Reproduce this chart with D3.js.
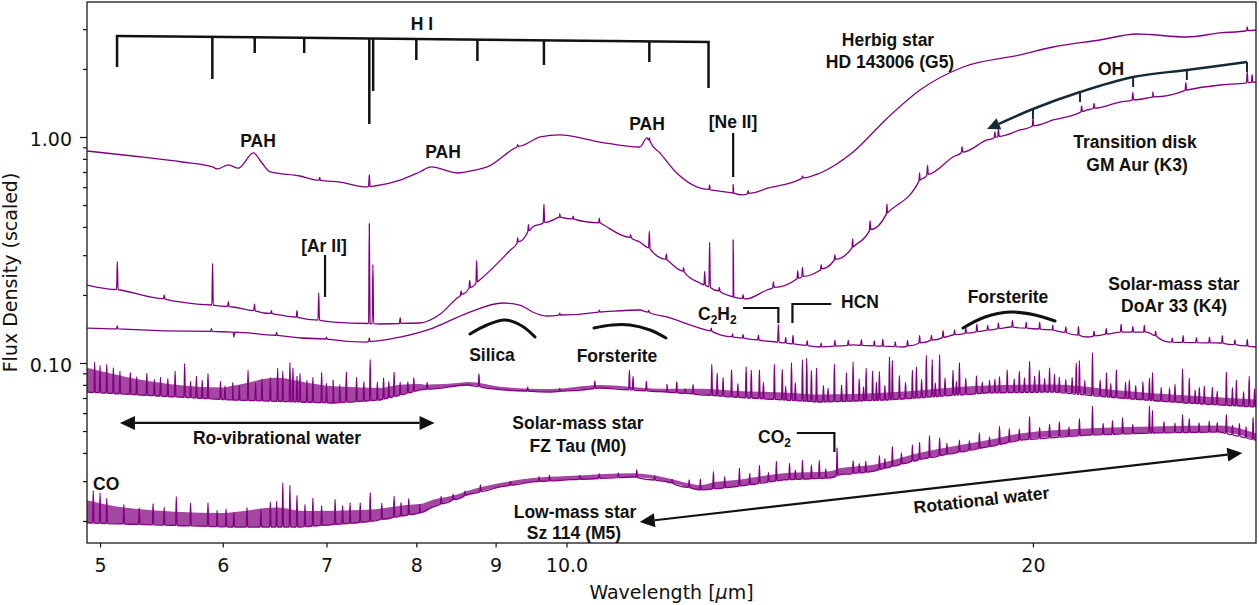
<!DOCTYPE html>
<html><head><meta charset="utf-8">
<script src="https://cdn.jsdelivr.net/npm/d3@7"></script>
<style>body{margin:0;background:#fff}svg{display:block}</style>
</head><body>
<svg id="c" width="1260" height="605"></svg>
<script>
// ---------------- DATA ----------------
const xTicks = [5, 6, 7, 8, 9, 10, 20];
const xTickLabels = ["5", "6", "7", "8", "9", "10.0", "20"];
const yTicks = [0.1, 1];
const yTickLabels = ["0.10", "1.00"];
const yMinorTicks = [0.02,0.03,0.04,0.05,0.06,0.07,0.08,0.09,0.2,0.3,0.4,0.5,0.6,0.7,0.8,0.9,2,3];

// continuum [wavelength (um), flux (scaled)]
const hdCont = [[4.904,0.867],[5.25,0.824],[5.65,0.775],[5.91,0.737],[5.95,0.722],[6.05,0.752],[6.14,0.728],[6.28,0.850],[6.36,0.767],[6.44,0.700],[6.73,0.672],[6.90,0.645],[7.14,0.632],[7.43,0.601],[7.52,0.607],[7.81,0.645],[8.04,0.700],[8.18,0.737],[8.50,0.693],[8.73,0.714],[8.89,0.737],[9.29,0.903],[9.62,1.0],[9.90,1.021],[10.51,0.950],[11.15,0.903],[11.27,0.990],[11.49,0.850],[11.78,0.693],[12.38,0.583],[12.81,0.565],[13.00,0.554],[13.5,0.595],[14.58,0.693],[15.31,0.858],[16.11,1.214],[16.91,1.614],[18.03,2.040],[19.62,2.306],[20.61,2.501],[22.09,2.686],[23.34,2.856],[25.14,2.770],[26.41,2.886],[27.86,2.975]];
const gmCont = [[4.904,0.2213],[5.15,0.2104],[5.63,0.1862],[6.09,0.1769],[6.53,0.1631],[7.07,0.1518],[7.58,0.1488],[8.04,0.1503],[8.29,0.1647],[8.50,0.194],[8.79,0.2330],[9.20,0.316],[9.51,0.400],[9.90,0.443],[10.51,0.4164],[11.15,0.343],[11.61,0.2857],[12.19,0.226],[12.81,0.196],[13.05,0.192],[13.47,0.2104],[14.58,0.258],[15.31,0.326],[16.11,0.461],[16.91,0.645],[17.76,0.816],[18.68,0.970],[19.62,1.074],[20.61,1.189],[21.68,1.317],[22.76,1.428],[23.90,1.503],[25.14,1.614],[26.41,1.698],[27.86,1.751]];
const doarCont = [[4.904,0.1428],[6.09,0.1371],[7.43,0.1238],[7.81,0.1303],[8.20,0.1428],[8.63,0.1664],[9.10,0.1843],[9.33,0.1805],[9.51,0.1681],[9.71,0.1614],[10.51,0.1681],[11.15,0.1716],[11.61,0.1598],[12.19,0.1428],[12.81,0.1303],[13.67,0.1238],[14.58,0.1177],[15.31,0.1202],[16.50,0.1177],[17.76,0.1330],[19.33,0.1443],[20.61,0.1400],[21.68,0.1303],[22.76,0.1371],[23.69,0.1371],[24.51,0.1238],[26.41,0.1226],[27.86,0.1177]];
const fzCont = [[4.904,0.0744],[6.09,0.0686],[7.07,0.0665],[7.58,0.0686],[8.04,0.0760],[8.63,0.0799],[9.10,0.0760],[9.76,0.0744],[10.51,0.0775],[11.61,0.0744],[12.81,0.0707],[14.58,0.0672],[16.11,0.0686],[18.68,0.0737],[20.61,0.0744],[22.76,0.0700],[25.14,0.0665],[27.86,0.0639]];
const szCont = [[4.904,0.0196],[6.09,0.0188],[6.73,0.0188],[7.43,0.0198],[8.04,0.0217],[8.20,0.0231],[8.63,0.0261],[9.06,0.0283],[9.51,0.0298],[10.0,0.0304],[11.04,0.0313],[11.61,0.0298],[12.19,0.0274],[12.81,0.0283],[13.80,0.0304],[14.80,0.0310],[15.0,0.0320],[15.7,0.0330],[16.91,0.0375],[18.68,0.0425],[19.62,0.0456],[21.68,0.0480],[23.90,0.0490],[26.41,0.0495],[27.86,0.0456]];

// dense line-forest envelope [wavelength, top / continuum]
const fzBand = [[4.904,1.28],[5.3,1.17],[6.0,1.13],[6.5,1.27],[6.8,1.22],[7.2,1.17],[7.8,1.11],[8.1,1.05],[8.6,1.03],[11.5,1.03],[12.2,1.06],[14,1.08],[27.86,1.08]];
const szBand = [[4.904,1.26],[5.2,1.18],[6.0,1.15],[6.5,1.22],[6.8,1.17],[8.0,1.10],[8.5,1.04],[12,1.04],[12.5,1.07],[27.86,1.07]];

// emission lines [wavelength, peak / continuum]
const hdLines = [[6.93,1.03],[7.46,1.13],[9.3,1.02],[11.31,1.03],[12.37,1.05],[12.81,1.09],[13.1,1.03],[14.2,1.02],[27.5,1.04]];
const gmLines = [[5.13,1.33],[5.50,1.04],[5.91,1.53],[6.05,1.05],[6.29,1.07],[6.45,1.03],[6.70,1.07],[6.92,1.32],[7.46,2.77],[7.50,1.83],[7.81,1.06],[8.55,1.04],[8.66,1.08],[8.75,1.25],[9.30,1.05],[9.45,1.07],[9.67,1.21],[9.90,1.03],[10.1,1.03],[10.5,1.05],[11.0,1.03],[11.31,1.19],[11.6,1.06],[11.9,1.04],[12.28,1.15],[12.37,1.58],[12.55,1.04],[12.81,1.79],[13.0,1.04],[13.6,1.06],[14.1,1.08],[14.2,1.10],[14.6,1.05],[14.9,1.05],[15.3,1.09],[15.7,1.10],[16.1,1.10],[16.9,1.08],[17.1,1.10],[18.0,1.06],[18.9,1.06],[19.0,1.08],[20.0,1.08],[21.5,1.06],[21.9,1.05],[23.2,1.08],[23.9,1.05],[25.1,1.08],[27.5,1.12],[27.7,1.08]];
const doarLines = [[5.13,1.03],[5.9,1.03],[6.1,0.95],[6.5,1.03],[7.0,1.02],[7.46,1.04],[9.9,1.02],[10.5,1.02],[11.3,1.02],[12.4,1.03],[12.8,1.03],[13.0,1.04],[13.3,1.05],[13.7,1.20],[13.85,1.06],[14.0,1.09],[14.3,1.05],[14.6,1.04],[14.9,1.06],[15.2,1.05],[15.5,1.06],[15.8,1.05],[16.0,1.07],[16.3,1.05],[16.6,1.06],[16.9,1.08],[17.2,1.05],[17.5,1.07],[17.8,1.05],[18.1,1.06],[18.4,1.08],[18.7,1.05],[19.0,1.06],[19.4,1.07],[19.8,1.06],[20.2,1.07],[20.6,1.05],[21.0,1.06],[21.4,1.09],[21.9,1.05],[22.3,1.06],[22.8,1.08],[23.2,1.06],[23.6,1.07],[24.0,1.05],[24.6,1.04],[25.0,1.07],[25.5,1.05],[26.0,1.06],[26.5,1.08],[27.0,1.05],[27.5,1.07]];
const fzLines = [[4.96,1.36],[5.0,1.32],[5.05,1.34],[5.10,1.30],[5.15,1.26],[5.23,1.25],[5.28,1.2],[5.36,1.25],[5.42,1.18],[5.47,1.21],[5.53,1.2],[5.59,1.30],[5.67,1.41],[5.72,1.18],[5.77,1.25],[5.82,1.2],[5.87,1.29],[5.98,1.20],[6.02,1.15],[6.09,1.19],[6.15,1.16],[6.23,1.36],[6.3,1.2],[6.36,1.25],[6.44,1.27],[6.51,1.40],[6.56,1.36],[6.63,1.49],[6.66,1.41],[6.7,1.3],[6.73,1.34],[6.8,1.25],[6.86,1.29],[6.95,1.36],[7.0,1.22],[7.07,1.26],[7.14,1.2],[7.21,1.36],[7.32,1.28],[7.4,1.22],[7.47,1.52],[7.55,1.2],[7.62,1.24],[7.68,1.18],[7.74,1.28],[7.81,1.14],[7.9,1.12],[7.97,1.15],[8.13,1.07],
 [8.78,1.14],[9.44,1.04],[9.90,1.03],[10.43,1.08],[10.98,1.22],[11.04,1.15],[11.26,1.10],[11.61,1.08],[11.78,1.12],[11.93,1.05],[12.07,1.10],
 [12.41,1.37],[12.51,1.26],[12.62,1.21],[12.78,1.32],[12.9,1.15],[13.06,1.37],[13.16,1.33],[13.32,1.34],[13.4,1.18],[13.62,1.43],[13.78,1.36],[13.85,1.15],[13.97,1.47],[14.05,1.2],[14.20,1.52],[14.29,1.55],[14.39,1.37],[14.50,1.41],[14.65,1.18],[14.75,1.15],[14.89,1.46],[15.05,1.18],[15.16,1.34],[15.31,1.49],[15.45,1.25],[15.55,1.15],[15.61,1.39],[15.76,1.35],[15.85,1.2],[15.92,1.34],[16.05,1.16],[16.16,1.55],[16.23,1.49],[16.40,1.27],[16.55,1.18],[16.72,1.33],[16.82,1.37],[16.95,1.2],[17.07,1.53],[17.22,1.46],[17.3,1.15],[17.41,1.53],[17.55,1.2],[17.76,1.29],[17.85,1.15],[17.93,1.39],[18.1,1.18],[18.39,1.20],[18.55,1.12],[18.75,1.14],[18.9,1.15],[19.03,1.18],[19.25,1.26],[19.45,1.15],[19.60,1.24],[19.75,1.16],[19.90,1.37],[20.05,1.18],[20.19,1.25],[20.35,1.15],[20.50,1.28],[20.65,1.2],[20.80,1.17],[21.0,1.15],[21.2,1.18],[21.33,1.37],[21.43,1.41],[21.6,1.16],[21.85,1.55],[22.1,1.18],[22.31,1.28],[22.45,1.15],[22.64,1.33],[22.95,1.18],[23.08,1.21],[23.3,1.15],[23.55,1.2],[23.78,1.25],[23.89,1.33],[24.2,1.15],[24.50,1.15],[24.7,1.2],[24.98,1.41],[25.23,1.29],[25.45,1.15],[25.61,1.18],[25.8,1.2],[26.11,1.19],[26.3,1.15],[26.66,1.40],[26.9,1.2],[27.06,1.30],[27.35,1.16],[27.58,1.36],[27.8,1.2]];
const szLines = [[4.95,1.39],[5.0,1.36],[5.05,1.29],[5.18,1.22],[5.3,1.18],[5.41,1.24],[5.5,1.2],[5.6,1.34],[5.72,1.26],[5.87,1.27],[5.95,1.18],[6.03,1.20],[6.1,1.16],[6.22,1.22],[6.35,1.2],[6.44,1.29],[6.5,1.3],[6.56,1.57],[6.63,1.53],[6.7,1.38],[6.78,1.25],[6.86,1.33],[6.95,1.22],[7.09,1.29],[7.17,1.2],[7.25,1.23],[7.36,1.22],[7.47,1.34],[7.6,1.18],[7.74,1.24],[7.82,1.15],[7.91,1.18],[8.04,1.09],
 [8.3,1.08],[8.45,1.06],[8.6,1.05],[8.8,1.07],[9.2,1.04],[9.6,1.05],[9.75,1.06],[10.2,1.04],[10.5,1.05],[10.8,1.05],[11.1,1.08],[11.4,1.05],[11.7,1.04],[12.0,1.08],[12.2,1.12],
 [12.44,1.19],[12.65,1.12],[12.93,1.20],[13.13,1.12],[13.32,1.20],[13.5,1.1],[13.66,1.22],[13.93,1.18],[14.05,1.1],[14.20,1.21],[14.39,1.15],[14.56,1.20],[14.7,1.1],[14.95,1.33],[15.31,1.14],[15.45,1.10],[15.6,1.12],[15.92,1.15],[16.05,1.1],[16.23,1.22],[16.45,1.12],[16.72,1.18],[16.90,1.19],[17.15,1.25],[17.41,1.20],[17.6,1.12],[17.93,1.13],[18.2,1.1],[18.47,1.17],[18.75,1.1],[19.03,1.20],[19.31,1.15],[19.6,1.12],[19.90,1.26],[20.2,1.12],[20.50,1.15],[20.80,1.17],[21.1,1.1],[21.43,1.19],[21.85,1.34],[22.2,1.12],[22.51,1.15],[22.85,1.18],[23.2,1.1],[23.78,1.32],[23.89,1.26],[24.3,1.12],[24.7,1.1],[24.98,1.20],[25.23,1.15],[25.6,1.1],[25.99,1.12],[26.3,1.1],[26.66,1.21],[26.9,1.1],[27.18,1.14],[27.45,1.12],[27.74,1.25]];

// annotation data (wavelength, flux)
const hiLines = [[5.128,2.040],[5.908,1.806],[6.292,2.353],[6.772,2.353],[7.46,1.142],[7.503,1.598],[8.0,2.191],[8.76,2.169],[9.67,2.083],[11.31,2.147],[12.35,1.647]];
const hiBracketFlux = [2.80, 2.63];
const neIILine = [12.81, 1.041, 0.665];
const arIILine = [6.985, 0.3005, 0.196];
const ohLines = [[27.49,2.147],[25.14,1.979],[23.21,1.843],[21.45,1.581],[20.0,1.330]];
const ohArrowTip = [18.68, 1.085];
const c2h2Mark = [13.0, 13.70, 0.1751, 0.1503];
const hcnMark = [13.99, 14.82, 0.1824, 0.1503];
const co2Mark = [14.08, 14.89, 0.0490, 0.0404];
const roVibWater = [5.15, 8.22, 0.0543];
const rotWater = [[11.15, 0.0198], [27.30, 0.0400]];

// ---------------- LAYOUT ----------------
const M = {l: 87, r: 1256, t: 2, b: 543};
const purple = "#800080";
const annFont = '"Liberation Sans", Arial, sans-serif';
const axFont = '"DejaVu Sans", sans-serif';
const labels = [
 ["H I",422,30,"middle"],["PAH",258,147,"middle"],["PAH",443,158,"middle"],["PAH",647,130,"middle"],
 ["[Ne II]",733,128,"middle"],["[Ar II]",324,252,"middle"],
 ["Herbig star",888,46,"middle"],["HD 143006 (G5)",890,68,"middle"],["OH",1111,75,"middle"],
 ["Transition disk",1135,148,"middle"],["GM Aur (K3)",1137,171,"middle"],
 ["Solar-mass star",1174,290,"middle"],["DoAr 33 (K4)",1174,312,"middle"],
 ["Forsterite",1008,303,"middle"],["HCN",860,308,"middle"],["Silica",492,361,"middle"],["Forsterite",617,362,"middle"],
 ["Solar-mass star",578,429,"middle"],["FZ Tau (M0)",578,452,"middle"],["Ro-vibrational water",277,444,"middle"],
 ["CO",93,490,"start"],["Low-mass star",575,518,"middle"],["Sz 114 (M5)",574,539,"middle"]
];
const arcs = [
 [[470,334],[487,325],[505,320],[522,326],[535,337]],
 [[594,328],[612,325],[630,325],[650,330],[666,338]],
 [[963,328],[985,317],[1010,312],[1035,315],[1055,321]]
];

// ---------------- CHART ----------------
const x = d3.scaleLog().domain([4.904, 27.86]).range([M.l, M.r]);
const y = d3.scaleLog().domain([0.01598, 3.956]).range([M.b, M.t]);
const svg = d3.select("#c");
svg.append("defs").append("clipPath").attr("id","clip").append("rect")
  .attr("x",M.l).attr("y",M.t).attr("width",M.r-M.l).attr("height",M.b-M.t);

function logInterp(arr){
  const s = d3.scaleLinear().domain(arr.map(d=>Math.log(d[0]))).range(arr.map(d=>Math.log(d[1]))).clamp(true);
  return w => Math.exp(s(Math.log(w)));
}
const plot = svg.append("g").attr("clip-path","url(#clip)");
const line = d3.line().curve(d3.curveMonotoneX).x(d=>x(d[0])).y(d=>y(d[1]));

function drawSpectrum(cont, lines, band){
  const c = logInterp(cont);
  if (band){
    const b = logInterp(band);
    const ws = Array.from(new Set(cont.map(d=>d[0]).concat(band.map(d=>d[0])))).sort((a,b)=>a-b);
    plot.append("path").datum(ws)
      .attr("d", d3.area().curve(d3.curveMonotoneX).x(w=>x(w)).y0(w=>y(c(w))).y1(w=>y(c(w)*b(w))))
      .attr("fill", purple).attr("fill-opacity", 0.72).attr("stroke","none");
  }
  const pts = cont.map(d=>[d[0],d[1]]);
  const k = Math.pow(10, 0.00045);
  lines.forEach(([w,r])=>{
    const a = w/k, bb = w*k;
    pts.push([a,c(a)],[w,c(w)*r],[bb,c(bb)]);
  });
  pts.sort((p,q)=>p[0]-q[0]);
  plot.append("path").datum(pts).attr("d", line)
    .attr("fill","none").attr("stroke",purple).attr("stroke-width",1.3).attr("stroke-linejoin","round");
}
drawSpectrum(hdCont, hdLines);
drawSpectrum(gmCont, gmLines);
drawSpectrum(doarCont, doarLines);
drawSpectrum(fzCont, fzLines, fzBand);
drawSpectrum(szCont, szLines, szBand);

// axes
const xAxis = d3.axisBottom(x).tickValues(xTicks).tickFormat((d,i)=>xTickLabels[i]).tickSize(4.5).tickPadding(11);
const gx = svg.append("g").attr("transform",`translate(0,${M.b})`).call(xAxis);
const yAxis = d3.axisLeft(y).tickValues(yTicks).tickFormat((d,i)=>yTickLabels[i]).tickSize(7).tickPadding(8);
const gy = svg.append("g").attr("transform",`translate(${M.l},0)`).call(yAxis);
const gyMinor = svg.append("g").attr("transform",`translate(${M.l},0)`).call(d3.axisLeft(y).tickValues(yMinorTicks).tickFormat("").tickSize(4));
[gx,gy,gyMinor].forEach(g=>{
  g.select(".domain").remove();
  g.selectAll("line").attr("stroke","#111").attr("stroke-width",1.2);
  g.selectAll("text").attr("font-family",axFont).attr("font-size",19).attr("fill","#111");
});
gy.selectAll("text").attr("dy","0.44em");
svg.append("rect").attr("x",M.l).attr("y",M.t).attr("width",M.r-M.l).attr("height",M.b-M.t)
  .attr("fill","none").attr("stroke","#1a1a1a").attr("stroke-width",1.3);

svg.append("text").attr("x",(M.l+M.r)/2).attr("y",599).attr("text-anchor","middle")
  .attr("font-family",axFont).attr("font-size",19).attr("fill","#111")
  .html('Wavelength [<tspan font-style="italic">μ</tspan>m]');
svg.append("text").attr("transform",`translate(17,${(M.t+M.b)/2}) rotate(-90)`).attr("text-anchor","middle")
  .attr("font-family",axFont).attr("font-size",19).attr("fill","#111").text("Flux Density (scaled)");

// annotations
const ann = svg.append("g");
const blk = "#111";
function seg(x1,y1,x2,y2,w,col){ ann.append("line").attr("x1",x1).attr("y1",y1).attr("x2",x2).attr("y2",y2)
  .attr("stroke",col||blk).attr("stroke-width",w); }
function head(tx,ty,fx,fy,len,hw,col){
  const dx=tx-fx, dy=ty-fy, L=Math.hypot(dx,dy), ux=dx/L, uy=dy/L;
  const bx=tx-ux*len, by=ty-uy*len;
  ann.append("polygon").attr("points",`${tx},${ty} ${bx-uy*hw},${by+ux*hw} ${bx+uy*hw},${by-ux*hw}`).attr("fill",col||blk);
  return [bx,by];
}
// H I bracket
const hx0 = x(hiLines[0][0]), hx1 = x(hiLines[hiLines.length-1][0]);
const hy0 = y(hiBracketFlux[0]), hy1 = y(hiBracketFlux[1]);
seg(hx0-1.2,hy0,hx1+1.2,hy1,2.5);
hiLines.forEach(([w,f])=>{ const xx=x(w); const yt=hy0+(hy1-hy0)*(xx-hx0)/(hx1-hx0); seg(xx,yt,xx,y(f),2.5); });
// Ne II, Ar II
seg(x(neIILine[0]),y(neIILine[1]),x(neIILine[0]),y(neIILine[2]),2.2);
seg(x(arIILine[0]),y(arIILine[1]),x(arIILine[0]),y(arIILine[2]),2.2);
// C2H2, HCN, CO2 brackets
ann.append("path").attr("d",`M${x(c2h2Mark[0])},${y(c2h2Mark[2])}H${x(c2h2Mark[1])}V${y(c2h2Mark[3])}`).attr("fill","none").attr("stroke",blk).attr("stroke-width",2.2);
ann.append("path").attr("d",`M${x(hcnMark[0])},${y(hcnMark[3])}V${y(hcnMark[2])}H${x(hcnMark[1])}`).attr("fill","none").attr("stroke",blk).attr("stroke-width",2.2);
ann.append("path").attr("d",`M${x(co2Mark[0])},${y(co2Mark[2])}H${x(co2Mark[1])}V${y(co2Mark[3])}`).attr("fill","none").attr("stroke",blk).attr("stroke-width",2.2);
// arcs
arcs.forEach(a=>ann.append("path").attr("d",d3.line().curve(d3.curveCatmullRom)(a)).attr("fill","none").attr("stroke",blk).attr("stroke-width",3).attr("stroke-linecap","round"));
// OH
const ohCol = "#142b36";
const ohPts = ohLines.map(d=>[x(d[0]),y(d[1])]);
const tip = [x(ohArrowTip[0]), y(ohArrowTip[1])];
const ohBase = head(tip[0],tip[1],ohPts[ohPts.length-1][0],ohPts[ohPts.length-1][1],13,6,ohCol);
ann.append("path").attr("d",d3.line().curve(d3.curveCatmullRom)(ohPts.concat([ohBase]))).attr("fill","none").attr("stroke",ohCol).attr("stroke-width",2.5);
ohPts.forEach(p=>seg(p[0],p[1],p[0],p[1]+10,2,ohCol));
// water arrows
{
  const ax0=x(roVibWater[0]), ax1=x(roVibWater[1]), ay=y(roVibWater[2]);
  const b0=head(ax0,ay,ax1,ay,15,7), b1=head(ax1,ay,ax0,ay,15,7);
  seg(b0[0],b0[1],b1[0],b1[1],2.2);
  const p0=[x(rotWater[0][0]),y(rotWater[0][1])], p1=[x(rotWater[1][0]),y(rotWater[1][1])];
  const c0=head(p0[0],p0[1],p1[0],p1[1],15,7), c1=head(p1[0],p1[1],p0[0],p0[1],15,7);
  seg(c0[0],c0[1],c1[0],c1[1],2.2);
}
// text labels
const tg = svg.append("g").attr("font-family",annFont).attr("font-weight","bold").attr("font-size",17.5).attr("fill",blk);
labels.forEach(([t,lx,ly,an])=>tg.append("text").attr("x",lx).attr("y",ly).attr("text-anchor",an).text(t));
tg.append("text").attr("x",698).attr("y",320).html('C<tspan font-size="12" dy="4">2</tspan><tspan dy="-4">H</tspan><tspan font-size="12" dy="4">2</tspan>');
tg.append("text").attr("x",758).attr("y",443).html('CO<tspan font-size="12" dy="4">2</tspan>');
tg.append("text").attr("transform","translate(982,506) rotate(-6.3)").attr("text-anchor","middle").text("Rotational water");
</script>
</body></html>
